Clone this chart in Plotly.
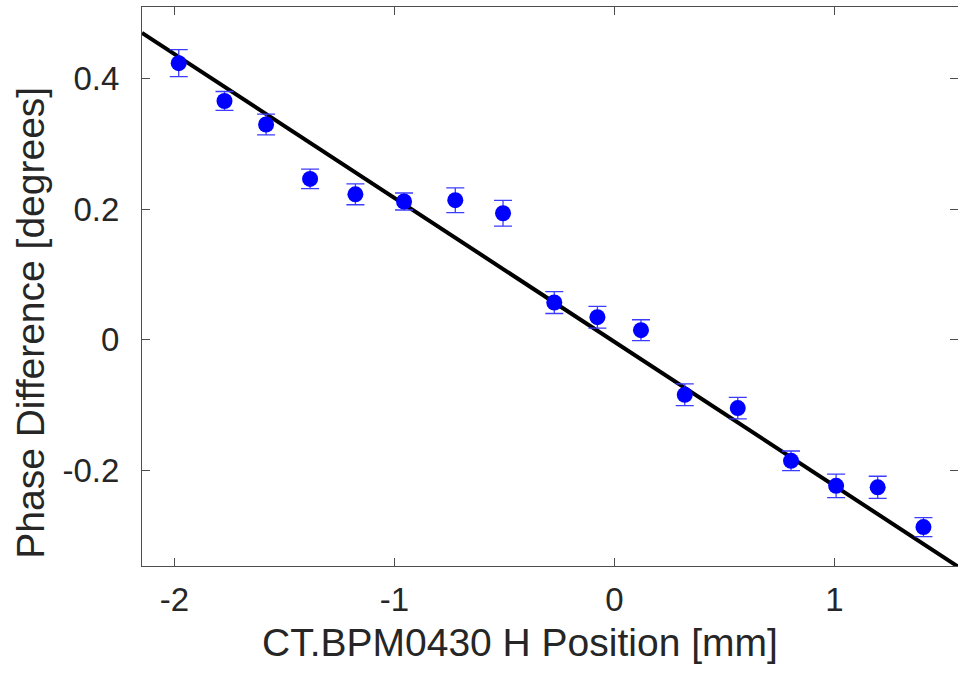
import plotly.graph_objects as go
import numpy as np

# Measured data
x_pos = [-1.980, -1.772, -1.583, -1.383, -1.177, -0.956, -0.723, -0.506,
         -0.273, -0.077, 0.121, 0.320, 0.561, 0.803, 1.008, 1.197, 1.405]
phase_diff = [0.424, 0.366, 0.330, 0.2466, 0.223, 0.212, 0.214, 0.194,
              0.0572, 0.0347, 0.0148, -0.0842, -0.1046, -0.1853, -0.2236, -0.226, -0.2869]
phase_err = [0.0207, 0.0145, 0.016, 0.015, 0.016, 0.013, 0.019, 0.0196,
             0.0168, 0.0166, 0.016, 0.0166, 0.0166, 0.015, 0.018, 0.017, 0.0145]

fit_slope = -0.2205
fit_intercept = -0.003

x_range = [-2.147, 1.562]
y_range = [-0.3465, 0.51]
x_ticks = [-2, -1, 0, 1]
y_ticks = [-0.2, 0, 0.2, 0.4]
y_ticktext = ["-0.2", "0", "0.2", "0.4"]
x_title = "CT.BPM0430 H Position [mm]"
y_title = "Phase Difference [degrees]"

fit_x = np.array(x_range)
fit_y = fit_slope * fit_x + fit_intercept

fig = go.Figure()
fig.add_trace(go.Scatter(x=fit_x, y=fit_y, mode="lines",
                         line=dict(color="black", width=4), showlegend=False,
                         hoverinfo="skip"))
fig.add_trace(go.Scatter(
    x=x_pos, y=phase_diff, mode="markers",
    marker=dict(color="#0000ff", size=16, line=dict(width=0)),
    error_y=dict(type="data", array=phase_err, visible=True,
                 color="rgb(60,60,255)", thickness=1.3, width=9),
    showlegend=False))

font_family = "Liberation Sans, Arial, Helvetica, sans-serif"
axis_color = "#262626"

fig.update_layout(
    width=958, height=673,
    margin=dict(l=142, r=0, t=7, b=107),
    paper_bgcolor="white", plot_bgcolor="white",
    font=dict(family=font_family, color=axis_color),
    xaxis=dict(range=x_range, tickvals=x_ticks, ticktext=[str(v) for v in x_ticks],
               automargin=False,
               showgrid=False, zeroline=False, showline=True, linecolor="#4d4d4d",
               linewidth=1, mirror="ticks", ticks="inside", ticklen=8, tickcolor="#4d4d4d",
               ticklabelstandoff=4,
               tickfont=dict(size=33, color=axis_color)),
    yaxis=dict(range=y_range, tickvals=y_ticks, ticktext=y_ticktext,
               automargin=False,
               showgrid=False, zeroline=False, showline=True, linecolor="#4d4d4d",
               linewidth=1, mirror="ticks", ticks="inside", ticklen=8, tickcolor="#4d4d4d",
               ticklabelstandoff=15,
               tickfont=dict(size=33, color=axis_color)),
    annotations=[
        dict(text=x_title, xref="paper", yref="paper", x=0.463, y=-0.1377,
             xanchor="center", yanchor="middle", showarrow=False,
             font=dict(size=39, color=axis_color)),
        dict(text=y_title, xref="paper", yref="paper", x=-0.137, y=0.4356,
             xanchor="center", yanchor="middle", showarrow=False, textangle=-90,
             font=dict(size=39, color=axis_color)),
    ],
)

fig.write_html("out.html", post_script="document.body.style.margin='0px';",
               config={"displayModeBar": False})
